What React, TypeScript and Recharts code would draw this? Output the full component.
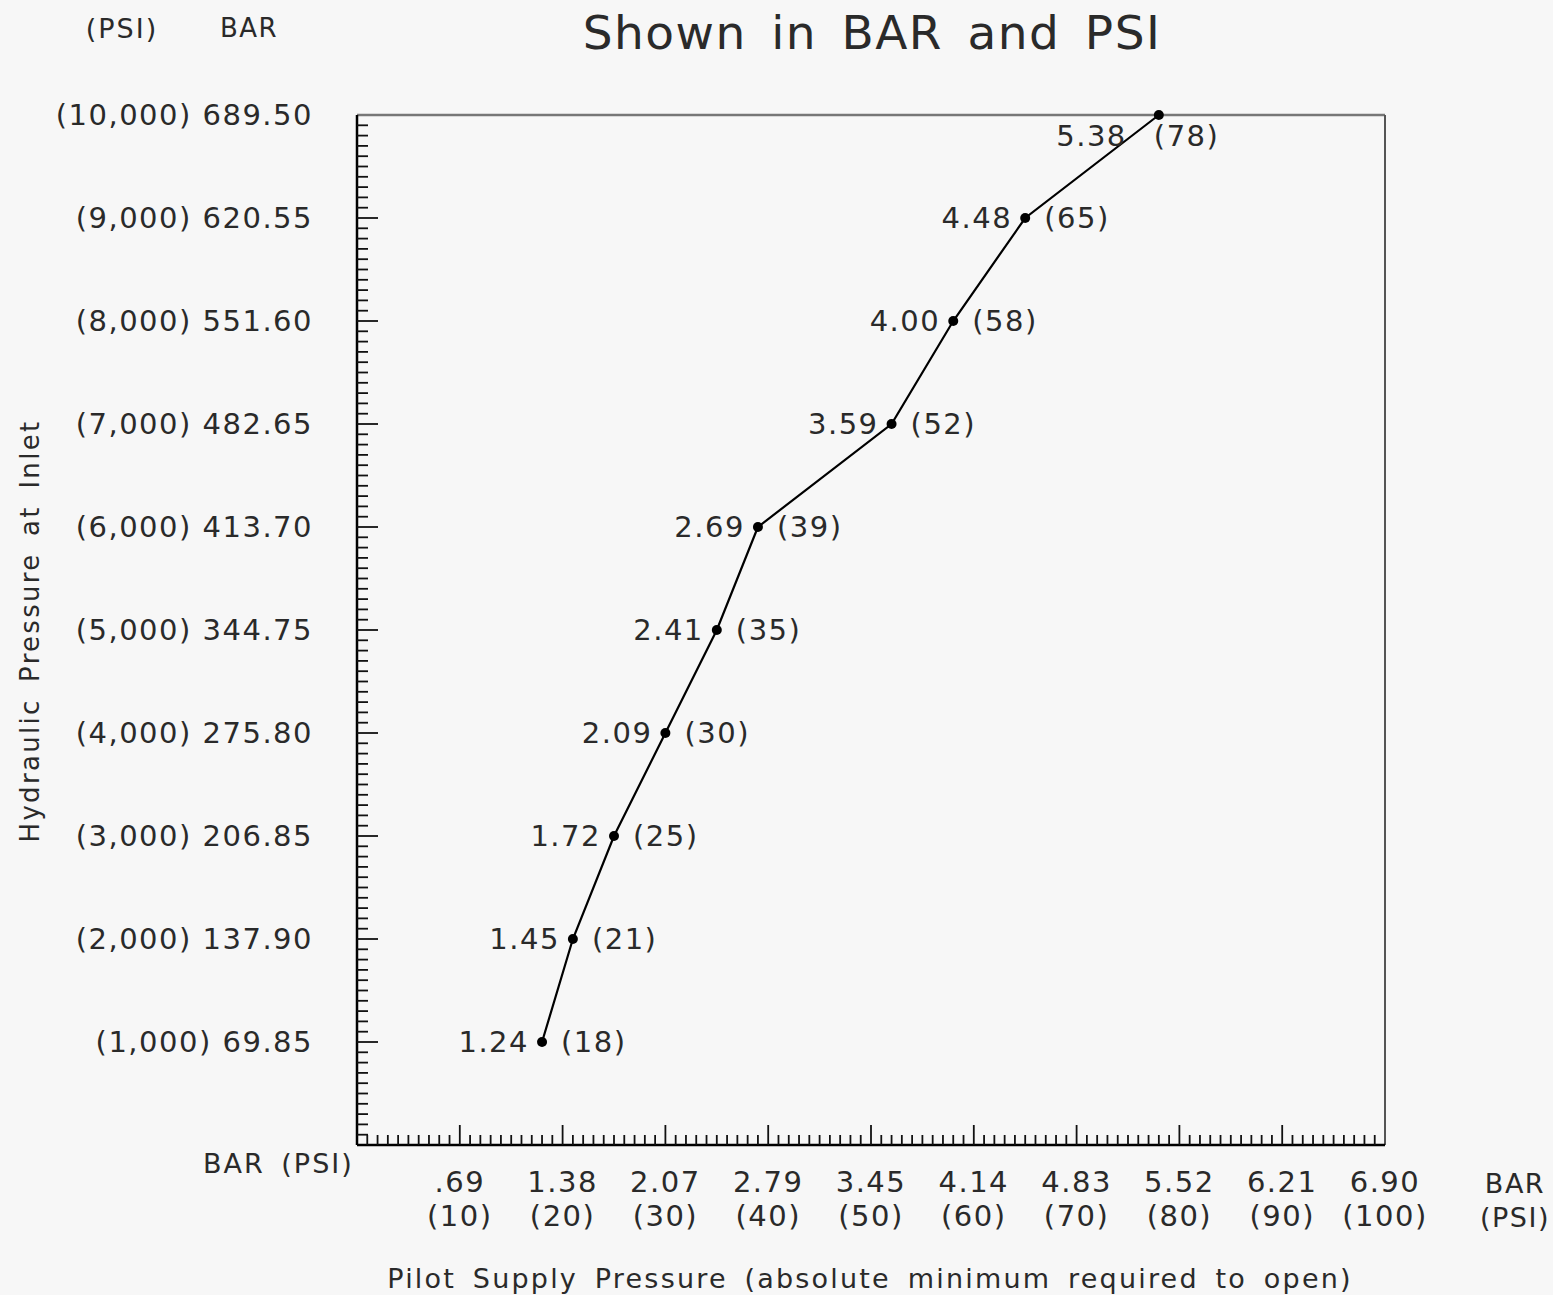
import { LineChart, Line, XAxis, YAxis, ReferenceLine } from 'recharts';

// Pilot supply pressure needed to open, against hydraulic inlet pressure.
const inletPsi = [1000, 2000, 3000, 4000, 5000, 6000, 7000, 8000, 9000, 10000];
const pilotPsi = [18, 21, 25, 30, 35, 39, 52, 58, 65, 78];
const pilotBar = ['1.24', '1.45', '1.72', '2.09', '2.41', '2.69', '3.59', '4.00', '4.48', '5.38'];

const xMajor = [10, 20, 30, 40, 50, 60, 70, 80, 90, 100];
const xBarLabels = ['.69', '1.38', '2.07', '2.79', '3.45', '4.14', '4.83', '5.52', '6.21', '6.90'];
const xPsiLabels = ['(10)', '(20)', '(30)', '(40)', '(50)', '(60)', '(70)', '(80)', '(90)', '(100)'];

const yMajor = [1000, 2000, 3000, 4000, 5000, 6000, 7000, 8000, 9000, 10000];
const yLabels = [
  '(1,000) 69.85', '(2,000) 137.90', '(3,000) 206.85', '(4,000) 275.80', '(5,000) 344.75',
  '(6,000) 413.70', '(7,000) 482.65', '(8,000) 551.60', '(9,000) 620.55', '(10,000) 689.50',
];

// minor ticks every 1 psi on x, every 100 psi on y
const xTicks = Array.from({ length: 101 }, (_, i) => i);
const yTicks = Array.from({ length: 101 }, (_, i) => i * 100);

const rows = inletPsi.map((y, i) => ({ inlet: y, pilot: pilotPsi[i], bar: pilotBar[i] }));

const FONT = '"DejaVu Sans", sans-serif';
const INK = '#2a2a2a';
const txt = { fontFamily: FONT, fill: INK, letterSpacing: 1.5 } as const;

function XTick(props: { x?: number; y?: number; payload?: { value: number } }) {
  const { x = 0, y = 0, payload } = props;
  const v = payload?.value ?? 0;
  const major = v % 10 === 0;
  const idx = xMajor.indexOf(v);
  return (
    <g>
      {v > 0 && v < 100 && <line x1={x} y1={y} x2={x} y2={y - (major ? 20 : 10)} stroke="#111" strokeWidth={1.8} />}
      {idx >= 0 && (
        <>
          <text x={x} y={y + 37} textAnchor="middle" dominantBaseline="central" fontSize={29} {...txt}>{xBarLabels[idx]}</text>
          <text x={x} y={y + 71} textAnchor="middle" dominantBaseline="central" fontSize={29} {...txt}>{xPsiLabels[idx]}</text>
        </>
      )}
    </g>
  );
}

function YTick(props: { x?: number; y?: number; payload?: { value: number } }) {
  const { x = 0, y = 0, payload } = props;
  const v = payload?.value ?? 0;
  const major = v % 1000 === 0;
  const idx = yMajor.indexOf(v);
  return (
    <g>
      {v > 0 && v < 10000 && <line x1={x} y1={y} x2={x + (major ? 21 : 11)} y2={y} stroke="#111" strokeWidth={1.8} />}
      {idx >= 0 && (
        <text x={x - 44} y={y} textAnchor="end" dominantBaseline="central" fontSize={29} {...txt}>{yLabels[idx]}</text>
      )}
    </g>
  );
}

function PointDot(props: { cx?: number; cy?: number; index?: number }) {
  const { cx, cy, index } = props;
  if (cx == null || cy == null || index == null) return <g />;
  const r = rows[index];
  const last = index === rows.length - 1;
  return (
    <g key={`d${index}`}>
      <circle cx={cx} cy={cy} r={5} fill="#000" />
      <text x={last ? cx - 32 : cx - 13} y={last ? cy + 21 : cy} textAnchor="end" dominantBaseline="central" fontSize={29} {...txt}>{r.bar}</text>
      <text x={last ? cx - 5 : cx + 19} y={last ? cy + 21 : cy} textAnchor="start" dominantBaseline="central" fontSize={29} {...txt}>({r.pilot})</text>
    </g>
  );
}

export default function App() {
  return (
    <div style={{ position: 'absolute', left: 0, top: 0, width: 1553, height: 1295, background: '#f7f7f7' }}>
      <LineChart width={1553} height={1295} data={rows} margin={{ top: 115, right: 168, bottom: 0, left: 0 }}>
        <XAxis
          type="number" dataKey="pilot" domain={[0, 100]} ticks={xTicks} interval={0}
          height={150} tickLine={false} tickSize={0} tickMargin={0}
          axisLine={{ stroke: '#000', strokeWidth: 2.5 }} tick={<XTick />}
        />
        <YAxis
          type="number" dataKey="inlet" domain={[0, 10000]} ticks={yTicks} interval={0}
          width={357} tickLine={false} tickSize={0} tickMargin={0}
          axisLine={{ stroke: '#000', strokeWidth: 2.5 }} tick={<YTick />}
        />
        <ReferenceLine y={10000} stroke="#777" strokeWidth={2.5} />
        <ReferenceLine x={100} stroke="#555" strokeWidth={2} />
        <Line
          type="linear" dataKey="inlet" stroke="#000" strokeWidth={2.2}
          dot={PointDot} activeDot={false} isAnimationActive={false}
        />
      </LineChart>
      <svg width={1553} height={1295} style={{ position: 'absolute', left: 0, top: 0, pointerEvents: 'none' }}>
        <text x={122} y={28} textAnchor="middle" dominantBaseline="central" fontSize={27} {...txt} letterSpacing={2}>(PSI)</text>
        <text x={249} y={28} textAnchor="middle" dominantBaseline="central" fontSize={26} {...txt}>BAR</text>
        <text x={872} y={32} textAnchor="middle" dominantBaseline="central" fontSize={47} {...txt} letterSpacing={1.5} wordSpacing={8}>Shown in BAR and PSI</text>
        <text x={203} y={1163} textAnchor="start" dominantBaseline="central" fontSize={27} {...txt} letterSpacing={2} wordSpacing={6}>BAR (PSI)</text>
        <text x={1515} y={1183} textAnchor="middle" dominantBaseline="central" fontSize={27} {...txt}>BAR</text>
        <text x={1515} y={1217} textAnchor="middle" dominantBaseline="central" fontSize={27} {...txt}>(PSI)</text>
        <text x={870} y={1278} textAnchor="middle" dominantBaseline="central" fontSize={27} {...txt} letterSpacing={2.2} wordSpacing={6}>
          Pilot Supply Pressure (absolute minimum required to open)
        </text>
        <text x={30} y={631} textAnchor="middle" dominantBaseline="central" fontSize={26} {...txt} letterSpacing={2.3} wordSpacing={6} transform="rotate(-90 30 631)">
          Hydraulic Pressure at Inlet
        </text>
      </svg>
    </div>
  );
}
